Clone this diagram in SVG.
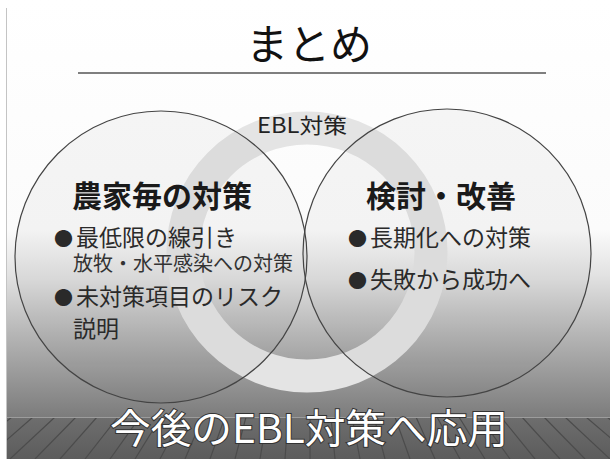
<svg xmlns="http://www.w3.org/2000/svg" width="610" height="459" viewBox="0 0 610 459">
<defs>
<linearGradient id="bg" x1="0" y1="0" x2="0" y2="417" gradientUnits="userSpaceOnUse">
<stop offset="0" stop-color="#ffffff"/>
<stop offset="0.55" stop-color="#fbfbfb"/>
<stop offset="0.66" stop-color="#e2e2e2"/>
<stop offset="0.8" stop-color="#b6b6b6"/>
<stop offset="1" stop-color="#7c7c7c"/>
</linearGradient>
<linearGradient id="floor" x1="0" y1="417" x2="0" y2="459" gradientUnits="userSpaceOnUse">
<stop offset="0" stop-color="#6e6e6e"/>
<stop offset="1" stop-color="#5c5c5c"/>
</linearGradient>
<clipPath id="floorClip"><rect x="7" y="417" width="603" height="42"/></clipPath>
<style>
.jp{font-family:"Noto Sans CJK JP","Noto Sans",sans-serif;fill:#222}
.ttl{font-size:42px;fill:#111}
.head{font-size:30px;font-weight:700;fill:#1a1a1a}
.item{font-size:23px;fill:#2a2a2a}
.bul{font-size:19px}
.sub{font-size:20px;fill:#333}
.big{font-size:40px;fill:#ffffff;stroke:#333;stroke-width:2;paint-order:stroke}
.circ{fill:#000;fill-opacity:0.03;stroke:#444;stroke-width:1.2}
.plank{stroke:#4c4c4c;stroke-width:1.2}
</style>
</defs>
<rect x="0" y="0" width="610" height="459" fill="#ffffff"/>
<rect x="7" y="0" width="603" height="417" fill="url(#bg)"/>
<rect x="7" y="417" width="603" height="42" fill="url(#floor)"/>
<g clip-path="url(#floorClip)">
<path class="plank" d="M-40 459L12 417M-15 459L33 417M10 459L55 417M35 459L76 417M60 459L97 417M85 459L118 417M110 459L140 417M135 459L161 417M160 459L182 417M185 459L203 417M210 459L225 417M235 459L246 417M260 459L267 417M285 459L288 417M310 459L310 417M335 459L331 417M360 459L352 417M385 459L374 417M410 459L395 417M435 459L416 417M460 459L437 417M485 459L459 417M510 459L480 417M535 459L501 417M560 459L522 417M585 459L544 417M610 459L565 417M635 459L586 417M660 459L607 417"/>
</g>
<line x1="7" y1="417.5" x2="610" y2="417.5" stroke="#9c9c9c" stroke-width="1"/>
<line x1="6.5" y1="8" x2="6.5" y2="459" stroke="#c4c4c4" stroke-width="1"/>

<g id="title">
<text class="jp ttl" x="309" y="60" text-anchor="middle">まとめ</text>
<line x1="78" y1="73" x2="546" y2="73" stroke="#555" stroke-width="1.5"/>
</g>

<g id="ring">
<circle cx="307" cy="252" r="124" fill="none" stroke="#e4e4e4" stroke-width="33"/>
<text class="jp" x="302" y="133" font-size="21" text-anchor="middle" textLength="90" lengthAdjust="spacingAndGlyphs">EBL対策</text>
</g>

<g id="left">
<circle class="circ" cx="161" cy="257" r="146"/>
<text class="jp head" x="162" y="207" text-anchor="middle">農家毎の対策</text>
<text class="jp item" x="54" y="246"><tspan class="bul">●</tspan><tspan dx="3">最低限の線引き</tspan></text>
<text class="jp sub" x="73" y="271">放牧・水平感染への対策</text>
<text class="jp item" x="54" y="305"><tspan class="bul">●</tspan><tspan dx="3">未対策項目のリスク</tspan></text>
<text class="jp item" x="73" y="337">説明</text>
</g>

<g id="right">
<circle class="circ" cx="447" cy="253" r="144"/>
<text class="jp head" x="441" y="207" text-anchor="middle">検討・改善</text>
<text class="jp item" x="348" y="246"><tspan class="bul">●</tspan><tspan dx="3">長期化への対策</tspan></text>
<text class="jp item" x="348" y="288"><tspan class="bul">●</tspan><tspan dx="3">失敗から成功へ</tspan></text>
</g>

<g id="bottom">
<text class="jp big" x="309" y="443" text-anchor="middle" textLength="398" lengthAdjust="spacingAndGlyphs">今後のEBL対策へ応用</text>
</g>
</svg>
